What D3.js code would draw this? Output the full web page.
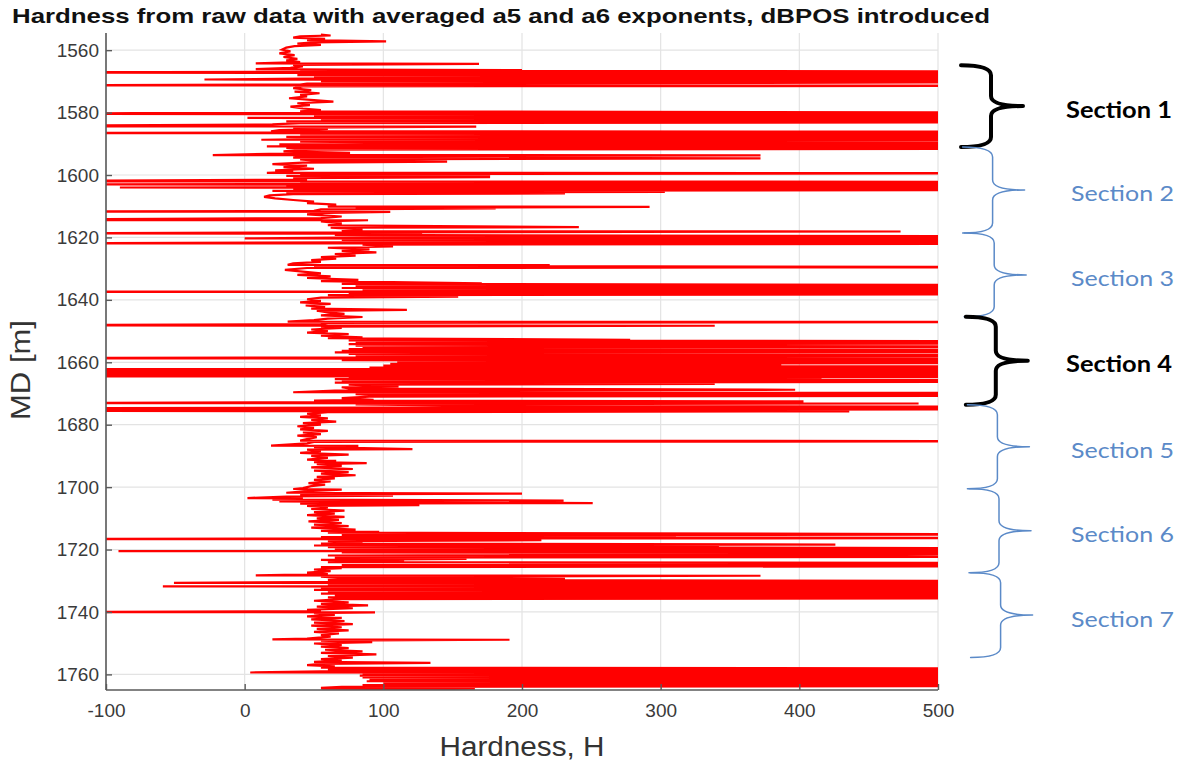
<!DOCTYPE html>
<html><head><meta charset="utf-8">
<script src="https://cdn.jsdelivr.net/npm/d3@7"></script>
<style>body{margin:0;background:#fff;} svg{display:block;}</style>
</head><body>
<svg id="chart" width="1178" height="769"></svg>
<script>
// ---- data: [MD (m), Hardness H] samples in depth order (values outside -100..500 are clipped) ----
const samples1555 = [
[1555.0,55],[1555.3,62],[1555.6,40],[1556.0,35],[1556.4,58],[1556.8,45],[1557.2,102],[1557.5,50],[1557.9,38],[1558.3,55],[1558.7,36],[1559.2,30],[1559.8,27],[1560.4,33],[1561.0,25],[1561.6,36],[1562.2,28],[1562.8,38],[1563.3,30],[1563.8,40],[1564.2,8],[1564.4,169],[1564.7,35],[1565.2,42],[1565.7,33],[1566.1,8],[1566.2,68],[1566.4,200],[1566.6,40],[1566.8,650],[1567.0,-60],[1567.2,-200],[1567.4,650],[1567.6,45],[1567.8,650],[1568.0,38],[1568.2,650],[1568.5,50],[1568.8,650],[1569.1,42],[1569.4,-29],[1569.6,650],[1569.9,55],[1570.2,650],[1570.5,373],[1570.7,45],[1571.0,40],[1571.3,-200],[1571.4,650],[1571.6,42],[1572.2,35],[1572.8,48],[1573.3,36],[1573.8,54],[1574.3,40],[1574.8,45],[1575.4,32],[1576.0,50],[1576.5,64],[1577.0,38],[1577.6,47],[1578.1,33],[1578.7,42],[1579.2,55],[1579.6,40],[1580.0,650],[1580.2,-80],[1580.4,-200],[1580.6,340],[1580.8,650],[1581.1,50],[1581.4,650],[1581.7,2],[1581.9,650],[1582.2,55],[1582.5,650],[1582.8,30],[1583.1,650],[1583.4,40],[1583.8,20],[1584.4,-200],[1584.5,167],[1584.8,35],[1585.2,60],[1585.6,25],[1586.0,19],[1586.1,650],[1586.4,45],[1586.6,-200],[1586.7,650],[1587.0,40],[1587.4,650],[1587.8,30],[1588.2,650],[1588.5,50],[1588.7,12],[1588.9,650],[1589.3,40],[1589.6,138],[1589.9,650],[1590.2,25],[1590.5,650],[1590.8,16],[1591.0,650],[1591.3,30],[1591.6,650],[1591.9,40],[1592.4,28],[1592.9,76],[1593.1,29],[1593.6,-23],[1593.7,372],[1594.0,45],[1594.4,35],[1594.7,372],[1595.0,40],[1595.4,50],[1595.7,146],[1596.0,42],[1596.5,20],[1597.0,45],[1597.5,28],[1598.0,50],[1598.5,22],[1599.0,35],[1599.3,16],[1599.4,650],[1599.7,40],[1600.0,177],[1600.3,30],[1600.7,177],[1601.0,35],[1601.5,45]
];
const samples1602 = [
[1602.0,-200],[1602.2,650],[1602.5,40],[1602.8,650],[1603.0,-200],[1603.2,650],[1603.5,30],[1603.8,650],[1604.0,-90],[1604.2,650],[1604.5,35],[1604.8,650],[1605.1,20],[1605.4,303],[1605.7,30],[1605.9,231],[1606.1,35],[1606.5,18],[1607.0,14],[1607.5,22],[1608.0,35],[1608.5,50],[1609.0,45],[1609.5,66],[1610.1,60],[1610.2,292],[1610.5,80],[1610.7,181],[1611.0,55],[1611.5,50],[1611.7,-200],[1611.8,105],[1612.1,60],[1612.6,45],[1613.3,70],[1613.8,55],[1614.4,-200],[1614.5,89],[1614.9,55],[1615.5,70],[1616.1,60],[1616.7,241],[1616.9,62],[1617.4,85],[1618.0,70],[1618.1,473],[1618.4,75],[1618.7,-200],[1618.8,128],[1619.2,65],[1619.7,650],[1620.0,90],[1620.3,0],[1620.5,650],[1620.8,70],[1621.2,650],[1621.6,80],[1621.9,-200],[1622.0,650],[1622.3,85],[1622.9,107],[1623.3,60],[1623.8,90],[1624.3,70],[1624.8,95],[1625.3,65],[1625.8,80],[1626.3,55],[1626.8,66],[1627.3,48],[1627.8,55],[1628.3,35],[1628.8,31],[1628.9,220],[1629.1,50],[1629.5,650],[1629.8,45],[1630.4,29],[1630.9,40],[1631.5,55],[1632.0,38],[1632.5,62],[1633.0,45],[1633.6,82],[1634.0,55],[1634.7,171],[1634.9,70],[1635.3,650],[1635.6,80],[1635.9,650],[1636.2,70],[1636.5,650],[1636.8,85],[1637.1,650],[1637.4,-200],[1637.5,650],[1637.8,75],[1638.2,650],[1638.5,60],[1639.0,154],[1639.3,55],[1639.8,45],[1640.3,55],[1640.8,40],[1641.3,62],[1641.8,44],[1642.3,58],[1642.8,48],[1643.2,117],[1643.5,52],[1644.0,60],[1644.5,72],[1645.0,55],[1645.5,85],[1646.0,60],[1646.5,50],[1647.0,31],[1647.1,650],[1647.4,60],[1647.8,55],[1648.2,-200],[1648.3,339],[1648.6,55],[1649.0,70],[1649.5,48]
];
const samples1650 = [
[1650.0,60],[1650.5,45],[1651.0,75],[1651.5,55],[1652.0,85],[1652.3,60],[1652.8,278],[1653.0,75],[1653.3,650],[1653.6,80],[1654.0,650],[1654.2,75],[1654.4,307],[1654.7,80],[1655.0,650],[1655.3,85],[1655.5,250],[1655.8,75],[1656.0,650],[1656.3,70],[1656.6,650],[1656.8,65],[1657.0,200],[1657.3,75],[1657.6,650],[1657.9,80],[1658.1,650],[1658.4,85],[1658.7,-200],[1658.8,80],[1659.0,650],[1659.3,70],[1659.6,650],[1659.9,110],[1660.2,650],[1660.5,105],[1660.8,387],[1661.1,100],[1661.4,650],[1661.7,90],[1662.0,650],[1662.2,-200],[1662.5,650],[1662.8,-200],[1663.1,650],[1663.3,-200],[1663.6,650],[1663.9,-190],[1664.2,650],[1664.5,-200],[1664.6,650],[1664.9,75],[1665.1,416],[1665.4,65],[1665.7,650],[1666.0,70],[1666.2,650],[1666.5,65],[1666.9,339],[1667.2,75],[1667.7,111],[1668.0,70],[1668.4,75],[1668.8,397],[1669.1,65],[1669.6,35],[1669.9,650],[1670.2,80],[1670.5,100],[1670.7,650],[1671.0,90],[1671.5,70],[1672.0,93],[1672.3,50],[1672.5,403],[1672.8,60],[1673.1,-200],[1673.2,486],[1673.5,80],[1674.1,206],[1674.2,650],[1674.5,90],[1674.8,-200],[1675.0,650],[1675.3,70],[1675.6,-200],[1675.7,436],[1676.0,60],[1676.5,45],[1677.0,55],[1677.5,40],[1678.0,60],[1678.5,48],[1679.0,66],[1679.5,42],[1680.0,55],[1680.5,38],[1681.0,50],[1681.5,40],[1682.0,60],[1682.5,42],[1683.0,55],[1683.5,38],[1684.0,52],[1684.6,45],[1685.1,40],[1685.3,650],[1685.5,50],[1686.0,45],[1686.7,19],[1686.8,82],[1687.2,50],[1687.8,121],[1688.0,45],[1688.5,55],[1689.0,40],[1689.6,75],[1690.0,48],[1690.6,60],[1691.2,45],[1691.6,66],[1692.0,50],[1692.3,88],[1692.6,52],[1693.2,70],[1693.7,48],[1694.2,78],[1694.7,50],[1695.2,75],[1695.7,55],[1696.2,80],[1696.7,52],[1697.2,65],[1697.7,50],[1698.2,62],[1698.7,46],[1699.2,58],[1699.7,48]
];
const samples1700 = [
[1700.3,42],[1700.6,35],[1700.8,70],[1701.3,45],[1701.8,30],[1702.1,200],[1702.3,40],[1702.7,107],[1703.0,30],[1703.5,2],[1703.6,42],[1704.0,20],[1704.3,230],[1704.6,25],[1705.1,251],[1705.3,40],[1705.8,126],[1706.0,45],[1706.5,60],[1707.0,48],[1707.5,72],[1708.0,50],[1708.5,65],[1709.0,45],[1709.5,72],[1710.0,52],[1710.5,68],[1711.0,46],[1711.5,70],[1712.0,50],[1712.5,75],[1713.0,48],[1713.6,80],[1714.0,55],[1714.3,97],[1714.6,60],[1715.2,650],[1715.4,70],[1715.7,311],[1716.0,55],[1716.3,650],[1716.5,50],[1716.6,-200],[1716.7,50],[1717.0,214],[1717.3,60],[1717.8,85],[1718.1,55],[1718.4,426],[1718.7,50],[1718.9,342],[1719.2,60],[1719.6,650],[1719.9,65],[1720.2,650],[1720.5,-91],[1720.6,650],[1720.9,70],[1721.3,650],[1721.6,475],[1721.9,60],[1722.3,650],[1722.6,65],[1723.0,160],[1723.3,55],[1723.7,115],[1724.0,60],[1724.4,650],[1724.8,483],[1725.0,70],[1725.3,650],[1725.6,55],[1726.0,70],[1726.4,50],[1726.9,62],[1727.4,45],[1727.9,60],[1728.3,8],[1728.4,372],[1728.7,55],[1729.1,70],[1729.4,231],[1729.7,60],[1730.1,650],[1730.4,45],[1730.7,-51],[1730.9,650],[1731.2,60],[1731.5,650],[1731.8,-59],[1732.0,650],[1732.3,55],[1732.6,650],[1732.9,50],[1733.2,650],[1733.5,60],[1733.8,650],[1734.1,55],[1734.4,650],[1734.7,65],[1735.0,650],[1735.3,60],[1735.6,650],[1735.9,70],[1736.4,50],[1736.9,75],[1737.4,55],[1737.9,89],[1738.3,52],[1738.8,78],[1739.3,45],[1739.8,55],[1740.0,-200],[1740.1,94],[1740.4,50],[1740.9,65],[1741.4,45],[1741.9,70],[1742.4,48],[1742.9,72],[1743.4,50],[1743.9,78],[1744.4,48],[1744.9,70],[1745.4,52],[1745.9,75],[1746.4,50],[1746.9,68],[1747.4,55],[1747.9,62],[1748.5,45],[1748.8,20],[1748.9,191],[1749.2,55],[1749.7,92],[1750.1,50],[1750.6,70],[1751.1,55],[1751.6,75],[1752.1,58],[1752.6,85],[1753.1,55],[1753.6,95],[1754.1,60],[1754.6,78],[1755.1,55],[1755.6,70],[1756.0,50],[1756.3,134],[1756.6,55],[1757.0,45],[1757.4,65],[1757.8,55],[1758.1,650],[1758.4,60],[1758.7,650],[1759.0,55],[1759.4,4],[1759.5,650],[1759.8,85],[1760.1,650],[1760.4,83],[1760.7,650],[1761.0,85],[1761.3,650],[1761.6,90],[1761.9,650],[1762.2,88],[1762.5,650],[1762.8,100],[1763.1,650],[1763.4,85],[1763.7,650],[1764.0,70],[1764.3,55],[1764.6,166],[1764.9,60],[1765.2,55]
];
const xTicks = [-100, 0, 100, 200, 300, 400, 500];
const yTicks = [1560, 1580, 1600, 1620, 1640, 1660, 1680, 1700, 1720, 1740, 1760];
const sectionNames = ["Section 1","Section 2","Section 3","Section 4","Section 5","Section 6","Section 7"];
const sectionTop    = [1564.8, 1591.0, 1618.6, 1645.4, 1673.6, 1700.5, 1727.4];
const sectionBottom = [1591.0, 1618.6, 1645.4, 1673.6, 1700.5, 1727.4, 1754.6];
const sectionHighlight = [true, false, false, true, false, false, false];

const titleText = "Hardness from raw data with averaged a5 and a6 exponents, dBPOS introduced";

// ---- layout ----
const svg = d3.select("#chart");
const L = 106, R = 938, T = 33, B = 690;
const x = d3.scaleLinear().domain([-100, 500]).range([L, R]);
const y = d3.scaleLinear().domain([1554.5, 1765]).range([T, B]);
const font = "'Liberation Sans', Arial, sans-serif";
const fmt = d => String(d);

// grid
const grid = svg.append("g").attr("stroke", "#e3e3e3").attr("stroke-width", 1.2);
grid.selectAll(".vg").data(xTicks).join("line")
  .attr("x1", d => x(d)).attr("x2", d => x(d)).attr("y1", T).attr("y2", B);
grid.selectAll(".hg").data(yTicks).join("line")
  .attr("x1", L).attr("x2", R).attr("y1", d => y(d)).attr("y2", d => y(d));

// data line
svg.append("clipPath").attr("id", "clip").append("rect")
  .attr("x", L).attr("y", T).attr("width", R - L).attr("height", B - T);
const samples = samples1555.concat(samples1602, samples1650, samples1700);
const line = d3.line().x(d => x(d[1])).y(d => y(d[0]));
svg.append("path").datum(samples)
  .attr("clip-path", "url(#clip)")
  .attr("fill", "none").attr("stroke", "#ff0000").attr("stroke-width", 2.2)
  .attr("stroke-linejoin", "miter").attr("d", line);

// axes
const axisColor = "#5a5a5a";
const gx = svg.append("g").attr("transform", `translate(0,${B})`)
  .call(d3.axisBottom(x).tickValues(xTicks).tickFormat(fmt).tickSizeInner(-6).tickSizeOuter(0).tickPadding(14));
const gy = svg.append("g").attr("transform", `translate(${L},0)`)
  .call(d3.axisLeft(y).tickValues(yTicks).tickFormat(fmt).tickSizeInner(-6).tickSizeOuter(0).tickPadding(7));
[gx, gy].forEach(g => {
  g.select(".domain").attr("stroke", axisColor).attr("stroke-width", 1.6);
  g.selectAll(".tick line").attr("stroke", axisColor).attr("stroke-width", 1.4);
  g.selectAll(".tick text").attr("fill", "#3a3a3a").style("font-family", font).style("font-size", "19px");
});
gy.select(".domain").attr("d", `M0,${T}V${B}`);
gx.select(".domain").attr("d", `M${L},0H${R}`);

// title & labels
svg.append("text").attr("x", 12).attr("y", 23)
  .attr("textLength", 978).attr("lengthAdjust", "spacingAndGlyphs")
  .style("font-family", font).style("font-weight", "bold").style("font-size", "21px")
  .attr("fill", "#111").text(titleText);
svg.append("text").attr("x", 522).attr("y", 756).attr("text-anchor", "middle")
  .attr("textLength", 165).attr("lengthAdjust", "spacingAndGlyphs")
  .style("font-family", font).style("font-size", "27px").attr("fill", "#333").text("Hardness, H");
svg.append("text").attr("transform", "translate(30,370) rotate(-90)").attr("text-anchor", "middle")
  .attr("textLength", 100).attr("lengthAdjust", "spacingAndGlyphs")
  .style("font-family", font).style("font-size", "27px").attr("fill", "#333").text("MD [m]");

// section braces
const braceBlue = "#5b8ac8";
sectionNames.forEach((name, i) => {
  const y0 = y(sectionTop[i]), y1 = y(sectionBottom[i]), ym = (y0 + y1) / 2;
  const xv = 991 + i * 1.6, xl = xv - 30, xt = xv + 32, r = 10;
  const p = `M${xl},${y0} Q${xv},${y0} ${xv},${y0 + r} L${xv},${ym - r} Q${xv},${ym} ${xt},${ym}` +
            ` Q${xv},${ym} ${xv},${ym + r} L${xv},${y1 - r} Q${xv},${y1} ${xl},${y1}`;
  const hi = sectionHighlight[i];
  svg.append("path").attr("d", p).attr("fill", "none")
    .attr("stroke", hi ? "#000" : braceBlue).attr("stroke-width", hi ? 4 : 1.5)
    .attr("stroke-linecap", "round").attr("stroke-linejoin", "round");
  svg.append("text").attr("x", hi ? 1066 : 1071).attr("y", ym + 3)
    .attr("dominant-baseline", "central")
    .attr("textLength", hi ? 106 : 103).attr("lengthAdjust", "spacingAndGlyphs")
    .style("font-family", "Lato, 'Open Sans', sans-serif").style("font-size", "22px")
    .style("font-weight", hi ? "bold" : "normal")
    .attr("fill", hi ? "#000" : braceBlue).text(name);
});
</script>
</body></html>
